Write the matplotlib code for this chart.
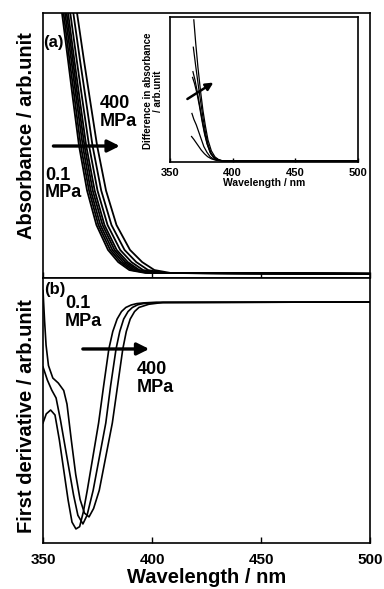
import matplotlib.pyplot as plt

plt.rcParams['font.family'] = ['Liberation Sans', 'DejaVu Sans']
plt.rcParams['font.weight'] = 'bold'
plt.rcParams['axes.labelweight'] = 'bold'

# (a) absorbance: levels and the wavelength where each spectrum crosses them
abs_levels = [1.08, 1.0, 0.82, 0.67, 0.5, 0.33, 0.2, 0.106, 0.06, 0.03, 0.019]
abs_wl = [
    [357.3, 358.7, 361.5, 363.8, 366.5, 370.2, 374.5, 379.8, 384.5, 389.6, 397.0],
    [358.0, 359.4, 362.2, 364.6, 367.3, 371.1, 375.4, 380.8, 385.6, 390.8, 398.2],
    [358.7, 360.1, 363.0, 365.4, 368.2, 371.9, 376.3, 381.8, 386.7, 391.9, 399.3],
    [359.4, 360.8, 363.7, 366.1, 369.0, 372.8, 377.3, 382.8, 387.8, 393.1, 400.5],
    [360.1, 361.5, 364.4, 366.9, 369.8, 373.7, 378.2, 383.8, 388.9, 394.2, 401.6],
    [361.1, 362.5, 365.5, 368.1, 371.1, 375.0, 379.6, 385.4, 390.6, 395.9, 403.3],
    [362.5, 363.9, 367.0, 369.7, 372.7, 376.7, 381.4, 387.4, 392.8, 398.2, 405.6],
    [364.2, 365.6, 368.8, 371.6, 374.8, 378.9, 383.7, 389.9, 395.5, 401.1, 408.5],
]
abs_end = 0.016

# inset: difference spectra
diff_wl = [
    [369.0, 370.5, 372.3, 374.3, 376.3, 378.3, 380.3, 383.0, 385.9, 389.0, 392.3, 500],
    [368.6, 370.5, 372.5, 374.5, 376.5, 378.5, 380.5, 383.0, 386.0, 390.0, 393.0, 500],
    [368.3, 370.0, 372.0, 374.0, 376.0, 378.0, 380.0, 382.5, 385.5, 389.5, 393.0, 500],
    [368.0, 369.5, 371.5, 373.5, 375.5, 377.5, 379.5, 382.0, 385.0, 389.0, 393.0, 500],
    [367.5, 369.0, 371.0, 373.0, 375.0, 377.0, 379.5, 382.0, 385.0, 389.0, 393.0, 500],
    [367.2, 369.0, 371.0, 373.0, 375.0, 377.5, 380.0, 383.0, 387.0, 392.0, 500],
]
diff_val = [
    [0.98, 0.82, 0.65, 0.49, 0.35, 0.24, 0.146, 0.07, 0.028, 0.008, 0.0, 0.0],
    [0.79, 0.66, 0.53, 0.41, 0.29, 0.19, 0.11, 0.05, 0.018, 0.004, 0.0, 0.0],
    [0.62, 0.56, 0.47, 0.37, 0.27, 0.18, 0.11, 0.05, 0.02, 0.005, 0.0, 0.0],
    [0.58, 0.54, 0.47, 0.38, 0.28, 0.19, 0.12, 0.06, 0.022, 0.005, 0.0, 0.0],
    [0.33, 0.29, 0.25, 0.20, 0.15, 0.10, 0.06, 0.03, 0.012, 0.003, 0.0, 0.0],
    [0.17, 0.15, 0.125, 0.10, 0.075, 0.05, 0.03, 0.015, 0.004, 0.0, 0.0],
]

# (b) first derivative
der_wl = [
    [350, 351.5, 353.5, 355.5, 357.5, 359.5, 361.5, 363.3, 365.1, 366.8, 368.5,
     370.3, 375.5, 377.8, 380.2, 382.0, 384.0, 386.0, 388.0, 390.5, 393.0, 396.0,
     400.0, 500],
    [350, 352, 354, 356, 358, 360, 362, 364, 366, 368.3, 370.2, 373.0, 378.8,
     381.0, 383.5, 385.2, 387.0, 389.0, 391.0, 393.5, 396.0, 402.0, 500],
    [350, 350.7, 351.4, 352.5, 354.5, 357, 359.5, 361, 363, 365, 367, 369, 371.1,
     373.2, 375.8, 381.8, 384.2, 386.6, 388.2, 390.0, 392.0, 394.0, 398.5, 405.0, 500],
]
der_val = [
    [-0.533, -0.493, -0.476, -0.498, -0.608, -0.74, -0.872, -0.97, -1.0, -0.99,
     -0.925, -0.83, -0.533, -0.37, -0.207, -0.13, -0.075, -0.042, -0.024, -0.013,
     -0.007, -0.004, -0.002, 0.0],
    [-0.286, -0.344, -0.388, -0.423, -0.52, -0.63, -0.74, -0.85, -0.94, -0.978,
     -0.94, -0.83, -0.533, -0.37, -0.207, -0.13, -0.075, -0.042, -0.024, -0.012,
     -0.007, -0.002, 0.0],
    [0.05, -0.08, -0.19, -0.28, -0.335, -0.357, -0.39, -0.45, -0.61, -0.76, -0.87,
     -0.93, -0.947, -0.91, -0.83, -0.533, -0.37, -0.207, -0.13, -0.075, -0.042,
     -0.024, -0.01, -0.002, 0.0],
]

ticks = [350, 400, 450, 500]

fig = plt.figure(figsize=(3.84, 5.89), dpi=100)
ax_a = fig.add_axes([0.112, 0.528, 0.8516, 0.450])
ax_b = fig.add_axes([0.112, 0.0781, 0.8516, 0.450])
ax_in = fig.add_axes([0.4427, 0.7250, 0.4896, 0.2462])

for wl in abs_wl:
    ax_a.plot(wl + [500], abs_levels + [abs_end], color='black', lw=1.3)
ax_a.set_xlim(350, 500)
ax_a.set_ylim(0, 1.0)

for wl, v in zip(der_wl, der_val):
    ax_b.plot(wl, v, color='black', lw=1.2)
ax_b.set_xlim(350, 500)
ax_b.set_ylim(-1.062, 0.106)

for wl, v in zip(diff_wl, diff_val):
    ax_in.plot(wl, v, color='black', lw=0.9)
ax_in.set_xlim(350, 500)
ax_in.set_ylim(-0.007, 1.0)

for ax in (ax_a, ax_b, ax_in):
    ax.set_xticks(ticks)
    ax.set_yticks([])
    ax.tick_params(axis='x', direction='in', length=4, width=1)
    for s in ax.spines.values():
        s.set_linewidth(1.2)

ax_a.tick_params(axis='x', labelbottom=False)
ax_b.tick_params(axis='x', labelsize=11, pad=7)
ax_in.tick_params(axis='x', labelsize=8, pad=4, length=3)

ax_b.set_xlabel('Wavelength / nm', fontsize=14.5, labelpad=1)
ax_in.set_xlabel('Wavelength / nm', fontsize=7.5, labelpad=0)

ax_a.set_ylabel('Absorbance / arb.unit', fontsize=14.5, va='center')
ax_a.yaxis.set_label_coords(-0.049, 0.536)
ax_b.set_ylabel('First derivative / arb.unit', fontsize=14.5, va='center')
ax_b.yaxis.set_label_coords(-0.049, 0.479)
ax_in.set_ylabel('Difference in absorbance\n/ arb.unit', fontsize=7, va='center',
                 linespacing=1.1)
ax_in.yaxis.set_label_coords(-0.09, 0.49)

# panel annotations
ax_a.text(350.2, 0.887, '(a)', fontsize=12, ha='left', va='center')
ax_a.text(376.0, 0.69, '400\nMPa', fontsize=13, ha='left', va='top', linespacing=1.05)
ax_a.text(351.0, 0.42, '0.1\nMPa', fontsize=13, ha='left', va='top', linespacing=1.05)
ax_a.annotate('', xy=(386.5, 0.498), xytext=(353.5, 0.498),
              arrowprops=dict(arrowstyle='-|>', lw=2.4, color='black', mutation_scale=18))

ax_b.text(350.5, 0.057, '(b)', fontsize=12, ha='left', va='center')
ax_b.text(360.0, 0.03, '0.1\nMPa', fontsize=13, ha='left', va='top', linespacing=1.05)
ax_b.text(393.0, -0.26, '400\nMPa', fontsize=13, ha='left', va='top', linespacing=1.05)
ax_b.annotate('', xy=(400.0, -0.207), xytext=(367.0, -0.207),
              arrowprops=dict(arrowstyle='-|>', lw=2.4, color='black', mutation_scale=18))

ax_in.annotate('', xy=(386.5, 0.555), xytext=(362.0, 0.42),
               arrowprops=dict(arrowstyle='-|>', lw=1.8, color='black', mutation_scale=11))

fig.savefig('out.png', dpi=100)
